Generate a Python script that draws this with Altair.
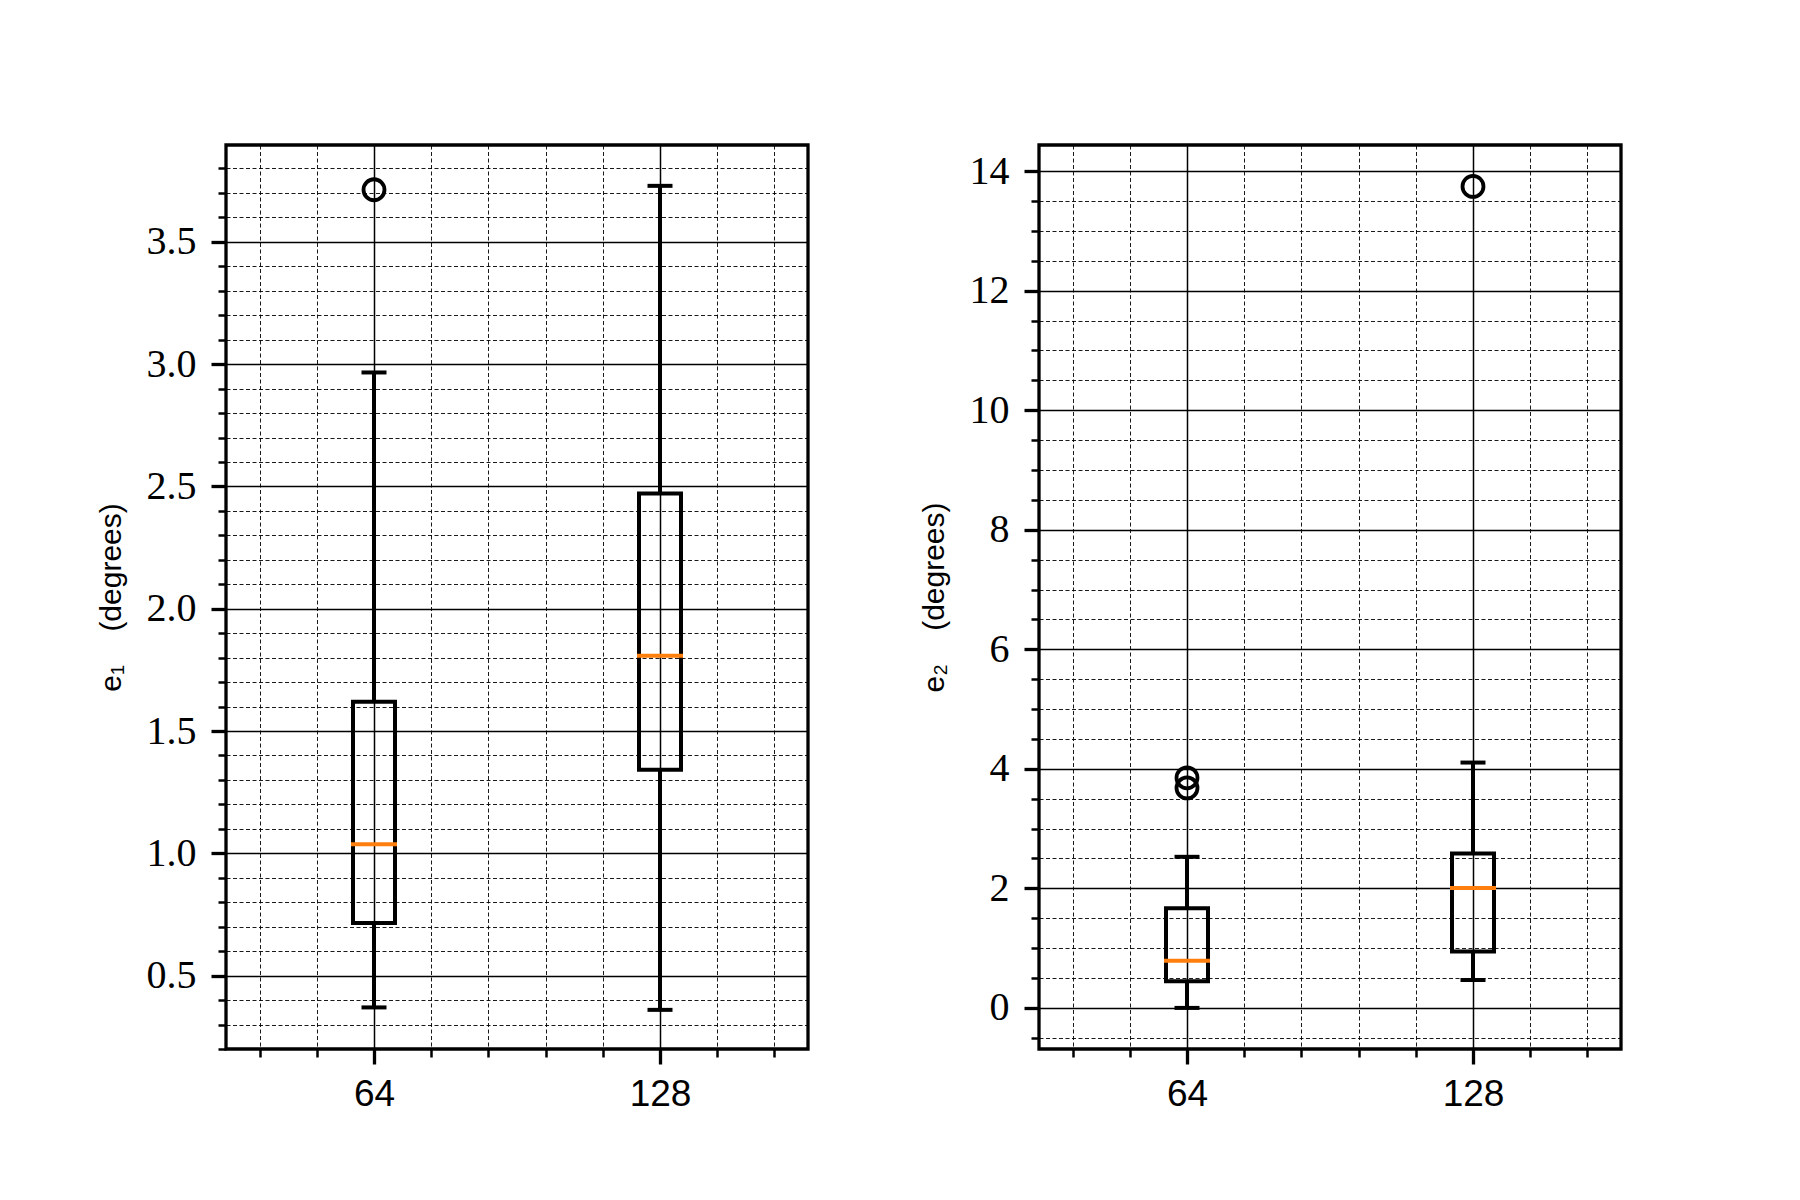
import altair as alt
import pandas as pd

# ---- data ----
categories = ["64", "128"]
positions = [1, 2]

e1_whislo = [0.37, 0.36]
e1_q1 = [0.715, 1.342]
e1_median = [1.037, 1.808]
e1_q3 = [1.62, 2.471]
e1_whishi = [2.966, 3.729]
e1_out_pos = [1]
e1_out_val = [3.713]

e2_whislo = [0.0, 0.467]
e2_q1 = [0.445, 0.945]
e2_median = [0.789, 2.005]
e2_q3 = [1.667, 2.583]
e2_whishi = [2.528, 4.105]
e2_out_pos = [1, 1, 2]
e2_out_val = [3.85, 3.68, 13.745]

e1_domain = [0.2, 3.896]
e1_major = [0.5, 1.0, 1.5, 2.0, 2.5, 3.0, 3.5]
e1_minor = [0.2, 0.3, 0.4, 0.6, 0.7, 0.8, 0.9, 1.1, 1.2, 1.3, 1.4, 1.6, 1.7, 1.8, 1.9,
            2.1, 2.2, 2.3, 2.4, 2.6, 2.7, 2.8, 2.9, 3.1, 3.2, 3.3, 3.4, 3.6, 3.7, 3.8]
e1_labels = ["0.5", "1.0", "1.5", "2.0", "2.5", "3.0", "3.5"]

e2_domain = [-0.6875, 14.4375]
e2_major = [0, 2, 4, 6, 8, 10, 12, 14]
e2_minor = [-0.5, 0.5, 1, 1.5, 2.5, 3, 3.5, 4.5, 5, 5.5, 6.5, 7, 7.5, 8.5, 9, 9.5,
            10.5, 11, 11.5, 12.5, 13, 13.5]
e2_labels = ["0", "2", "4", "6", "8", "10", "12", "14"]

x_domain = [0.5, 2.5]
x_minor = [0.6, 0.8, 1.2, 1.4, 1.6, 1.8, 2.2, 2.4]

MEDIAN_COLOR = "#ff7f0e"
SERIF = "Liberation Serif"
SANS = "Liberation Sans"
GAP = "\u00a0" * 4


def label_expr(values, labels):
    parts = []
    for v, l in zip(values, labels):
        parts.append(f"abs(datum.value - ({v})) < 1e-6 ? '{l}'")
    return " : ".join(parts) + " : ''"


def panel(whislo, q1, med, q3, whishi, out_pos, out_val, ydomain, ymajor, ylabels, yminor, title):
    df = pd.DataFrame({"pos": positions, "cat": categories, "whislo": whislo, "q1": q1,
                       "med": med, "q3": q3, "whishi": whishi})
    dfo = pd.DataFrame({"pos": out_pos, "val": out_val})
    xs = alt.Scale(domain=x_domain, nice=False, zero=False)
    ys = alt.Scale(domain=ydomain, nice=False, zero=False)
    base = alt.Chart(df)

    minor = base.mark_point(opacity=0).encode(
        x=alt.X("pos:Q", scale=xs, axis=alt.Axis(
            values=x_minor, orient="bottom", grid=True, gridColor="black", gridWidth=0.9,
            gridDash=[4, 2.5], gridOpacity=1, tickSize=8, tickWidth=2.5, tickColor="black",
            labels=False, domain=False, title=None)),
        y=alt.Y("med:Q", scale=ys, axis=alt.Axis(
            values=yminor, orient="left", grid=True, gridColor="black", gridWidth=0.9,
            gridDash=[4, 2.5], gridOpacity=1, tickSize=8, tickWidth=2.5, tickColor="black",
            labels=False, domain=False, title=None)),
    )

    lower = base.mark_rule(color="black", strokeWidth=4).encode(
        x=alt.X("pos:Q", scale=xs, axis=alt.Axis(
            values=positions, labelExpr=label_expr(positions, categories), orient="bottom",
            grid=True, gridColor="black", gridWidth=1.5, gridOpacity=1, tickSize=15,
            tickWidth=3.3, tickColor="black", labelFont=SANS, labelFontSize=37,
            labelColor="black", labelPadding=12, domain=False, title=None)),
        y=alt.Y("whislo:Q", scale=ys, axis=alt.Axis(
            values=ymajor, labelExpr=label_expr(ymajor, ylabels), orient="left",
            grid=True, gridColor="black", gridWidth=1.5, gridOpacity=1, tickSize=15,
            tickWidth=3.3, tickColor="black", labelFont=SERIF, labelFontSize=40,
            labelColor="black", labelPadding=15, domain=False, title=title,
            titleFont=SANS, titleFontSize=30, titleFontWeight="normal", titleColor="black",
            titlePadding=20)),
        y2="q1:Q",
    )
    upper = base.mark_rule(color="black", strokeWidth=4).encode(
        x=alt.X("pos:Q", scale=xs, axis=None),
        y=alt.Y("q3:Q", scale=ys, axis=None),
        y2="whishi:Q",
    )
    cap_lo = base.mark_tick(color="black", orient="horizontal", size=25, thickness=4, opacity=1).encode(
        x=alt.X("pos:Q", scale=xs, axis=None),
        y=alt.Y("whislo:Q", scale=ys, axis=None),
    )
    cap_hi = base.mark_tick(color="black", orient="horizontal", size=25, thickness=4, opacity=1).encode(
        x=alt.X("pos:Q", scale=xs, axis=None),
        y=alt.Y("whishi:Q", scale=ys, axis=None),
    )
    box = base.mark_bar(width=42, fill="transparent", stroke="black", strokeWidth=4).encode(
        x=alt.X("pos:Q", scale=xs, axis=None),
        y=alt.Y("q1:Q", scale=ys, axis=None),
        y2="q3:Q",
    )
    median = base.mark_tick(color=MEDIAN_COLOR, orient="horizontal", size=46, thickness=4, opacity=1).encode(
        x=alt.X("pos:Q", scale=xs, axis=None),
        y=alt.Y("med:Q", scale=ys, axis=None),
    )
    outl = alt.Chart(dfo).mark_point(shape="circle", filled=False, color="black",
                                     strokeWidth=3.8, size=440, opacity=1).encode(
        x=alt.X("pos:Q", scale=xs, axis=None),
        y=alt.Y("val:Q", scale=ys, axis=None),
    )
    return alt.layer(minor, lower, upper, box, cap_lo, cap_hi, median, outl).resolve_axis(
        x="independent", y="independent").properties(width=582, height=904)


left = panel(e1_whislo, e1_q1, e1_median, e1_q3, e1_whishi, e1_out_pos, e1_out_val,
             e1_domain, e1_major, e1_labels, e1_minor, "e\u2081" + GAP + "(degrees)")
right = panel(e2_whislo, e2_q1, e2_median, e2_q3, e2_whishi, e2_out_pos, e2_out_val,
              e2_domain, e2_major, e2_labels, e2_minor, "e\u2082" + GAP + "(degrees)")

chart = alt.hconcat(left, right, spacing=107).properties(
    padding={"left": 86, "top": 135, "right": 20, "bottom": 20},
    background="white",
).configure_view(stroke="black", strokeWidth=3.3)

chart.save("out.html", embed_options={"renderer": "svg", "actions": False})
